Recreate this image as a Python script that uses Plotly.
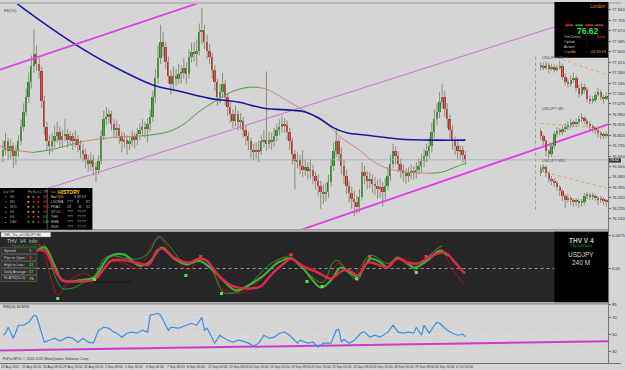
import plotly.graph_objects as go

W, H = 625, 370
FONT = "Liberation Sans"


def fx(px):
    return px / W


def fy(py):
    return 1 - py / H


# ---------------- main chart data: USDJPY H4 ----------------
first_open = 76.65
close = [76.70, 76.77, 76.69, 76.73, 76.65, 76.69, 76.77, 76.89, 77.01, 77.13, 77.25, 77.38, 77.48, 77.40, 77.34, 77.10, 76.89,
         76.77, 76.73, 76.77, 76.81, 76.85, 76.78, 76.81, 76.83, 76.78, 76.81, 76.77, 76.79, 76.74, 76.70, 76.67, 76.62, 76.59, 76.62, 76.56, 76.54, 76.61,
         76.81, 76.95, 76.97, 76.99, 76.91, 76.86, 76.88, 76.81, 76.77, 76.78, 76.75, 76.77, 76.81, 76.78, 76.83, 76.86, 76.89, 76.87, 76.91, 76.97,
         77.13, 77.29, 77.45, 77.58, 77.54, 77.42, 77.30, 77.24, 77.30, 77.28, 77.32, 77.33, 77.37, 77.32, 77.46, 77.50, 77.48, 77.51, 77.66, 77.68,
         77.58, 77.51, 77.46, 77.35, 77.25, 77.13, 77.17, 77.24, 77.13, 77.05, 76.99, 76.94, 76.99, 76.93, 76.94, 76.86, 76.81, 76.77, 76.70, 76.69, 76.70, 76.69,
         76.77, 76.78, 76.75, 76.78, 76.77, 76.81, 76.86, 76.89, 76.91, 76.90, 76.85, 76.77, 76.67, 76.61, 76.62, 76.57, 76.54, 76.56, 76.53, 76.54,
         76.49, 76.45, 76.41, 76.36, 76.34, 76.36, 76.44, 76.57, 76.69, 76.77, 76.67, 76.57, 76.49, 76.41, 76.35, 76.30, 76.28, 76.24, 76.32, 76.52,
         76.49, 76.45, 76.46, 76.42, 76.41, 76.38, 76.40, 76.36, 76.41, 76.49, 76.59, 76.69, 76.65, 76.59, 76.54, 76.51, 76.49, 76.51, 76.53, 76.52,
         76.54, 76.57, 76.61, 76.65, 76.69, 76.73, 76.85, 76.95, 77.01, 77.09, 77.13, 77.03, 76.95, 76.86, 76.77, 76.73, 76.69, 76.70, 76.66, 76.62]
high = [76.78, 76.84, 76.80, 76.79, 76.76, 76.74, 76.82, 76.95, 77.08, 77.20, 77.33, 77.47, 77.68, 77.55, 77.45, 77.38, 77.14,
        76.93, 76.82, 76.84, 76.90, 76.93, 76.89, 76.86, 76.95, 76.87, 76.85, 76.84, 76.86, 76.82, 76.78, 76.75, 76.71, 76.66, 76.68, 76.66, 76.60, 76.66,
        76.86, 77.02, 77.05, 77.03, 77.02, 76.95, 76.94, 76.91, 76.85, 76.84, 76.82, 76.81, 76.86, 76.84, 76.88, 76.92, 76.95, 76.93, 76.96, 77.03,
        77.18, 77.36, 77.55, 77.72, 77.66, 77.58, 77.46, 77.35, 77.38, 77.36, 77.40, 77.39, 77.45, 77.41, 77.52, 77.57, 77.58, 77.60, 77.73, 77.86,
        77.72, 77.64, 77.56, 77.49, 77.39, 77.28, 77.24, 77.33, 77.27, 77.16, 77.09, 77.03, 77.06, 77.02, 77.00, 76.97, 76.90, 76.85, 76.80, 76.75, 76.76, 76.78,
        76.82, 76.86, 77.34, 76.85, 76.84, 76.88, 76.92, 76.95, 76.98, 76.96, 76.94, 76.88, 76.80, 76.70, 76.68, 76.66, 76.70, 76.62, 76.60, 76.62,
        76.58, 76.52, 76.50, 76.45, 76.42, 76.43, 76.50, 76.63, 76.76, 76.88, 76.80, 76.72, 76.62, 76.54, 76.45, 76.40, 76.37, 76.33, 76.38, 76.60,
        76.57, 76.53, 76.52, 76.50, 76.48, 76.46, 76.47, 76.44, 76.47, 76.56, 76.66, 76.75, 76.73, 76.69, 76.63, 76.58, 76.55, 76.56, 76.58, 76.57,
        76.60, 76.63, 76.67, 76.71, 76.75, 76.80, 76.92, 77.03, 77.08, 77.17, 77.24, 77.18, 77.08, 76.99, 76.90, 76.81, 76.77, 76.74, 76.73, 76.69]
low = [76.60, 76.66, 76.62, 76.63, 76.55, 76.58, 76.64, 76.74, 76.85, 76.98, 77.08, 77.20, 77.33, 77.34, 77.28, 77.04, 76.82,
       76.70, 76.66, 76.68, 76.72, 76.76, 76.72, 76.73, 76.77, 76.72, 76.74, 76.70, 76.72, 76.68, 76.63, 76.60, 76.55, 76.52, 76.53, 76.49, 76.44, 76.50,
       76.58, 76.78, 76.90, 76.92, 76.86, 76.80, 76.80, 76.75, 76.68, 76.72, 76.66, 76.70, 76.73, 76.71, 76.74, 76.78, 76.81, 76.80, 76.76, 76.85,
       76.93, 77.08, 77.24, 77.40, 77.46, 77.36, 77.24, 77.15, 77.19, 77.22, 77.24, 77.24, 77.28, 77.24, 77.28, 77.41, 77.42, 77.38, 77.47, 77.56,
       77.52, 77.44, 77.40, 77.28, 77.18, 77.06, 77.08, 77.12, 77.06, 76.98, 76.92, 76.88, 76.89, 76.86, 76.87, 76.80, 76.74, 76.70, 76.63, 76.62, 76.63, 76.60,
       76.66, 76.72, 76.69, 76.71, 76.70, 76.73, 76.77, 76.82, 76.84, 76.84, 76.78, 76.70, 76.58, 76.38, 76.55, 76.50, 76.48, 76.49, 76.46, 76.47,
       76.42, 76.38, 76.33, 76.22, 76.26, 76.28, 76.31, 76.40, 76.53, 76.64, 76.61, 76.50, 76.42, 76.34, 76.27, 76.22, 76.16, 76.18, 76.19, 76.29,
       76.42, 76.38, 76.39, 76.35, 76.33, 76.30, 76.31, 76.24, 76.30, 76.37, 76.45, 76.55, 76.58, 76.52, 76.47, 76.44, 76.42, 76.44, 76.46, 76.46,
       76.47, 76.50, 76.52, 76.56, 76.60, 76.63, 76.68, 76.80, 76.90, 76.96, 77.04, 76.97, 76.88, 76.79, 76.70, 76.66, 76.62, 76.63, 76.60, 76.58]

price_ticks = [77.840, 77.755, 77.670, 77.585, 77.500, 77.415, 77.330, 77.245, 77.160, 77.075, 76.990,
               76.905, 76.820, 76.735, 76.650, 76.565, 76.480, 76.395, 76.310, 76.225, 76.140]
bid_price = 76.62

time_labels = ["23 Aug 2011", "25 Aug 00:00", "26 Aug 08:00", "29 Aug 16:00", "31 Aug 00:00", "1 Sep 08:00",
               "2 Sep 16:00", "6 Sep 00:00", "7 Sep 08:00", "8 Sep 16:00", "12 Sep 00:00", "13 Sep 08:00",
               "14 Sep 16:00", "16 Sep 00:00", "19 Sep 08:00", "20 Sep 16:00", "22 Sep 00:00", "23 Sep 08:00",
               "26 Sep 16:00", "28 Sep 00:00", "29 Sep 08:00", "30 Sep 16:00", "4 Oct 00:00"]
time_label_bars = [0, 8, 16, 24, 32, 40, 48, 56, 64, 72, 80, 88, 96, 104, 112, 120, 128, 136, 144, 152, 160, 168, 176]

# moving averages (bar index, price)
ma_blue_x = [3, 5, 14, 28, 41, 58, 68, 80, 91, 101, 117, 123, 128, 133, 141, 153, 168, 179]
ma_blue_y = [77.94, 77.90, 77.76, 77.56, 77.40, 77.23, 77.18, 77.12, 77.09, 77.04, 77.01, 76.95, 76.88, 76.84, 76.82, 76.79, 76.78, 76.78]

ma_col_x = [-1.15, 4.6, 11.5, 18.1, 25.8, 31.0, 37.3, 48.8, 54.0, 56.5, 64.2, 70.0, 75.8, 81.5, 89.2, 95.0, 98.8, 102.7,
            108.5, 114.2, 120.0, 125.8, 131.5, 137.3, 143.1, 148.8, 156.5, 165.4, 170.0, 175.0, 178.8]
ma_col_y = [76.73, 76.70, 76.68, 76.70, 76.74, 76.77, 76.79, 76.81, 76.815, 76.82, 76.85, 76.91, 77.01, 77.09, 77.18, 77.21, 77.21, 77.19,
            77.12, 77.05, 76.98, 76.90, 76.79, 76.71, 76.61, 76.55, 76.52, 76.51, 76.52, 76.56, 76.59]
ma_col_rising = [False, False, True, True, True, False, False, False, True, True, True, True, True, True, True, True, False, False,
                 False, False, False, False, False, False, False, False, False, True, True, True, True]

# trend lines (bar index, price)
tl_upper_x = [-1.15, 80.0]
tl_upper_y = [77.354, 77.927]
tl_mid_x = [14.2, 213.5]
tl_mid_y = [76.366, 77.702]
tl_lower_x = [110.4, 234.2]
tl_lower_y = [76.014, 76.909]

# ---------------- mini charts (right side) ----------------
m1_open0 = 76.693
m1_close = [76.694, 76.692, 76.695, 76.691, 76.693, 76.690, 76.692, 76.694, 76.683, 76.678, 76.676, 76.680, 76.682,
            76.672, 76.666, 76.673, 76.670, 76.661, 76.659, 76.660, 76.665, 76.668, 76.663, 76.661, 76.664]
m1_high = [76.697, 76.697, 76.698, 76.697, 76.696, 76.695, 76.695, 76.699, 76.696, 76.686, 76.681, 76.684, 76.687,
           76.684, 76.675, 76.677, 76.676, 76.672, 76.664, 76.663, 76.668, 76.672, 76.670, 76.665, 76.667]
m1_low = [76.689, 76.689, 76.690, 76.686, 76.689, 76.687, 76.688, 76.690, 76.680, 76.674, 76.672, 76.673, 76.677,
          76.668, 76.662, 76.664, 76.666, 76.657, 76.655, 76.656, 76.657, 76.663, 76.659, 76.656, 76.659]
m1_ma_x = [8, 24]
m1_ma_y = [76.700, 76.685]

m5_open0 = 76.680
m5_close = [76.675, 76.670, 76.660, 76.657, 76.665, 76.677, 76.680, 76.679, 76.682, 76.684, 76.686, 76.688, 76.687,
            76.689, 76.692, 76.693, 76.690, 76.687, 76.685, 76.683, 76.681, 76.678, 76.676, 76.675, 76.677]
m5_high = [76.683, 76.677, 76.672, 76.662, 76.668, 76.680, 76.684, 76.683, 76.686, 76.688, 76.690, 76.692, 76.691,
           76.693, 76.696, 76.698, 76.695, 76.692, 76.690, 76.687, 76.685, 76.683, 76.680, 76.679, 76.680]
m5_low = [76.672, 76.666, 76.655, 76.652, 76.654, 76.662, 76.674, 76.676, 76.676, 76.679, 76.681, 76.683, 76.684,
          76.684, 76.686, 76.689, 76.687, 76.684, 76.681, 76.679, 76.677, 76.674, 76.672, 76.672, 76.673]
m5_ma_x = [0, 24]
m5_ma_y = [76.688, 76.683]

m15_open0 = 76.690
m15_close = [76.694, 76.696, 76.690, 76.684, 76.682, 76.680, 76.676, 76.672, 76.667, 76.663, 76.665, 76.663, 76.661,
             76.662, 76.660, 76.661, 76.667, 76.668, 76.666, 76.667, 76.665, 76.663, 76.664, 76.662, 76.661]
m15_high = [76.698, 76.699, 76.698, 76.692, 76.687, 76.685, 76.682, 76.678, 76.674, 76.669, 76.669, 76.667, 76.665,
            76.665, 76.664, 76.664, 76.670, 76.671, 76.670, 76.670, 76.669, 76.667, 76.667, 76.666, 76.664]
m15_low = [76.687, 76.691, 76.686, 76.680, 76.678, 76.676, 76.672, 76.667, 76.662, 76.655, 76.660, 76.658, 76.656,
           76.657, 76.655, 76.656, 76.658, 76.664, 76.663, 76.663, 76.662, 76.658, 76.660, 76.658, 76.656]
m15_ma_x = [0, 24]
m15_ma_y = [76.692, 76.675]

# ---------------- THV oscillator (units of 0.0001) ----------------
thv_thick_red_x = [13.1, 16.2, 18.8, 22.7, 29.6, 35.4, 39.2, 41.9, 48.1, 52.7, 56.5, 59.6, 61.5, 66.2, 71.9, 75.8, 78.8, 83.5, 89.2, 95.8,
                   99.6, 104.6, 109.2, 111.5, 116.2, 121.9, 126.9, 131.5, 134.2, 137.3, 141.2, 146.2, 148.8, 152.7, 156.5, 160.4, 166.2,
                   171.2, 175.0, 178.8]
thv_thick_red_y = [40.5, 40.5, 13.5, -24.8, -29.3, -24.8, 0, 18, 18, 11.3, 9, 40.5, 45, 24.8, 13.5, 22.5, 18, -15.8, -40.5, -45,
                   -40.5, -9, 13.5, 22.5, 4.5, -9, -22.5, -4.5, -4.5, -15.8, 13.5, 6.8, 2.3, 22.5, 13.5, 11.3, 29.3,
                   36, 13.5, -11.3]
thv_thick_green_x = [13.1, 16.2, 20.0, 23.1, 31.5, 35.4, 41.2, 46.9, 52.7, 56.5, 61.5, 66.2, 71.2, 75.8, 81.5, 90.0, 95.0, 100.8,
                     106.5, 111.5, 116.2, 123.1, 126.9, 130.8, 134.2, 137.3, 142.3, 146.2, 148.8, 152.7, 156.5, 159.2, 164.2,
                     169.2, 171.9]
thv_thick_green_y = [40.5, 47.3, 6.8, -27, -24.8, -20.3, 27, 31.5, 6.8, 13.5, 47.3, 22.5, 9, 18, -4.5, -49.5, -38.3, -15.8,
                     13.5, 22.5, 0, -42.8, -27, 2.3, -9, -18, 22.5, 13.5, 2.3, 24.8, 11.3, 2.3, 18,
                     40.5, 29.3]
thv_thin_red_x = [13.1, 16.2, 18.8, 21.2, 25.8, 31.5, 36.2, 41.2, 46.2, 52.7, 57.3, 60.4, 64.2, 68.1, 71.9, 75.8, 79.6, 83.5, 88.1,
                  93.1, 99.6, 106.5, 111.2, 114.2, 120.0, 125.8, 129.6, 131.5, 136.2, 141.2, 146.2, 150.8, 154.6, 158.5, 163.5,
                  169.2, 173.8, 178.8]
thv_thin_red_y = [67.5, 29.3, -27, -60.8, -27, -11.3, -22.5, 13.5, 13.5, 0, 51.8, 69.8, 40.5, 13.5, -4.5, 22.5, 13.5, -38.3, -54,
                  -54, -27, 18, 29.3, 13.5, 0, -15.8, 11.3, 6.8, -9, 22.5, 4.5, 13.5, 22.5, 13.5, 18,
                  47.3, 0, -38.3]
thv_thin_green_x = [13.1, 16.2, 20.0, 23.1, 27.7, 32.3, 35.4, 39.2, 41.9, 48.1, 52.7, 56.5, 60.4, 64.2, 70.0, 73.8, 77.7, 81.5,
                    85.4, 90.0, 95.0, 102.7, 108.5, 112.3, 118.1, 123.8, 127.7, 129.6, 133.5, 137.3, 140.4, 143.1, 148.8,
                    152.7, 156.5, 159.6, 162.3, 168.1, 170.0]
thv_thin_green_y = [40.5, 51.8, -15.8, -45, -42.8, -27, -15.8, 22.5, 29.3, 22.5, 22.5, 36, 72, 51.8, 13.5, 13.5, 22.5, -9,
                    -54, -54, -38.3, 6.8, 24.8, 22.5, -11.3, -31.5, 13.5, 18, -9, -27, 22.5, 29.3, 11.3,
                    22.5, 13.5, -4.5, 13.5, 45, 51.8]
thv_buy_x = [21.2, 35.4, 70.8, 84.6, 117.7, 123.5, 136.9, 160.0]
thv_buy_y = [-67.5, -24.8, -15.8, -56.3, -29.3, -40.5, -22.5, -9]
thv_sell_x = [76.5, 111.5, 141.9, 163.8]
thv_sell_y = [27, 31.5, 27, 27]
thv_ticks = [75, 0, -75]
thv_ticktext = ["0.0075", "0.00", "-0.0075"]

# ---------------- RSI(14) ----------------
rsi_x = [0, 1, 2, 4, 6, 8, 10, 12, 13, 14, 16, 18, 20, 22, 25, 27, 29, 31, 33, 35, 37, 39, 41, 43, 44, 46, 48, 50, 52, 54, 56,
         57, 60, 61, 64, 65, 68, 71, 73, 75, 77, 78, 79, 82, 84, 85, 87, 89, 91, 93, 95, 97, 99, 101, 103, 105, 107, 109, 111, 114,
         115, 118, 120, 122, 124, 127, 129, 130, 131, 132, 134, 136, 139, 140, 142, 144, 146, 149, 151, 153, 155, 157, 159, 160,
         162, 163, 165, 167, 168, 169, 172, 174, 176, 178, 179]
rsi_v = [48.8, 51.2, 58.2, 45.3, 60.6, 60.6, 64.1, 72.4, 71.2, 60.6, 40.6, 42.9, 45.3, 41.8, 46.5, 45.3, 40.6, 45.3, 40.6, 39.4,
         54.7, 58.2, 57.1, 52.4, 51.2, 46.5, 51.2, 52.4, 51.2, 54.7, 52.4, 72.4, 74.7, 72.4, 54.7, 58.2, 57.1, 60.6, 62.9, 60.6,
         70.0, 54.7, 57.1, 39.4, 48.8, 46.5, 42.9, 40.6, 42.9, 41.8, 39.4, 35.9, 39.4, 48.8, 45.3, 46.5, 51.2, 52.4, 48.8, 39.4,
         42.9, 39.4, 40.6, 34.7, 39.4, 39.4, 54.7, 55.9, 40.6, 44.1, 39.4, 42.9, 52.4, 52.4, 46.5, 48.8, 46.5, 52.4, 60.6, 52.4,
         51.2, 52.4, 51.2, 58.2, 48.8, 60.6, 51.2, 60.6, 64.1, 62.9, 54.7, 51.2, 48.8, 50.0, 46.8]
rsi_tl_x = [-1.15, 234.2]
rsi_tl_y = [30.6, 41.8]
rsi_levels = [70, 50, 30]
rsi_ticks = [85, 70, 50, 30, 15]

# ---------------- colours ----------------
BG = "#d5d5d5"
UP = "#1f8f1f"
DN = "#c4262a"
WICK = "#8c8c7a"
MAGENTA = "#e23ee2"
VIOLET = "#d070d8"
BLUE_MA = "#1a1aa0"
MA_UP = "#4f9a4f"
MA_DN = "#c98a72"

fig = go.Figure()


def add_candles(o0, c, h, l, xa, ya, width, wick_w=1):
    n = len(c)
    opens = [o0] + c[:-1]
    wx, wy = [], []
    for i in range(n):
        wx += [i, i, None]
        wy += [l[i], h[i], None]
    fig.add_trace(go.Scatter(x=wx, y=wy, mode="lines", line=dict(color=WICK, width=wick_w),
                             hoverinfo="skip", xaxis=xa, yaxis=ya))
    span = (max(h) - min(l))
    ux, ub, uh, dx, db, dh = [], [], [], [], [], []
    for i in range(n):
        o, cl = opens[i], c[i]
        hgt = max(abs(cl - o), span * 0.006)
        if cl >= o:
            ux.append(i); ub.append(min(o, cl)); uh.append(hgt)
        else:
            dx.append(i); db.append(min(o, cl)); dh.append(hgt)
    fig.add_trace(go.Bar(x=ux, y=uh, base=ub, width=width, marker=dict(color=UP, line=dict(width=0)),
                         hoverinfo="skip", xaxis=xa, yaxis=ya))
    fig.add_trace(go.Bar(x=dx, y=dh, base=db, width=width, marker=dict(color=DN, line=dict(width=0)),
                         hoverinfo="skip", xaxis=xa, yaxis=ya))


# main chart lines beneath candles
fig.add_trace(go.Scatter(x=[-1.15, 234.2], y=[bid_price, bid_price], mode="lines",
                         line=dict(color="#a9b6c6", width=1), hoverinfo="skip", xaxis="x", yaxis="y"))
fig.add_trace(go.Scatter(x=tl_mid_x, y=tl_mid_y, mode="lines", line=dict(color=VIOLET, width=1),
                         hoverinfo="skip", xaxis="x", yaxis="y"))

# coloured MA split into segments
seg_start = 0
for k in range(1, len(ma_col_x) + 1):
    if k == len(ma_col_x) or ma_col_rising[k] != ma_col_rising[seg_start]:
        end = min(k, len(ma_col_x) - 1)
        fig.add_trace(go.Scatter(x=ma_col_x[seg_start:end + 1], y=ma_col_y[seg_start:end + 1], mode="lines",
                                 line=dict(color=MA_UP if ma_col_rising[seg_start] else MA_DN, width=1, shape="spline"),
                                 hoverinfo="skip", xaxis="x", yaxis="y"))
        seg_start = k

add_candles(first_open, close, high, low, "x", "y", 0.72)

fig.add_trace(go.Scatter(x=ma_blue_x, y=ma_blue_y, mode="lines", line=dict(color=BLUE_MA, width=1.6, shape="spline"),
                         hoverinfo="skip", xaxis="x", yaxis="y"))
fig.add_trace(go.Scatter(x=tl_upper_x, y=tl_upper_y, mode="lines", line=dict(color=MAGENTA, width=1.8),
                         hoverinfo="skip", xaxis="x", yaxis="y"))
fig.add_trace(go.Scatter(x=tl_lower_x, y=tl_lower_y, mode="lines", line=dict(color=MAGENTA, width=1.8),
                         hoverinfo="skip", xaxis="x", yaxis="y"))

# mini charts
for (o0, c, h, l, mx, my, xa, ya) in [
    (m1_open0, m1_close, m1_high, m1_low, m1_ma_x, m1_ma_y, "x4", "y4"),
    (m5_open0, m5_close, m5_high, m5_low, m5_ma_x, m5_ma_y, "x5", "y5"),
    (m15_open0, m15_close, m15_high, m15_low, m15_ma_x, m15_ma_y, "x6", "y6"),
]:
    fig.add_trace(go.Scatter(x=mx, y=my, mode="lines", line=dict(color="#e0a050", width=1, dash="dot"),
                             hoverinfo="skip", xaxis=xa, yaxis=ya))
    add_candles(o0, c, h, l, xa, ya, 0.7)

# THV panel
fig.add_trace(go.Scatter(x=[13, 213.5], y=[0, 0], mode="lines", line=dict(color="#9c9c9c", width=1, dash="dot"),
                         hoverinfo="skip", xaxis="x2", yaxis="y2"))
fig.add_trace(go.Scatter(x=thv_thin_red_x, y=thv_thin_red_y, mode="lines",
                         line=dict(color="#a8161c", width=1, shape="spline"), hoverinfo="skip", xaxis="x2", yaxis="y2"))
fig.add_trace(go.Scatter(x=thv_thin_green_x, y=thv_thin_green_y, mode="lines",
                         line=dict(color="#2f9a2f", width=1, shape="spline"), hoverinfo="skip", xaxis="x2", yaxis="y2"))
fig.add_trace(go.Scatter(x=thv_thick_green_x, y=thv_thick_green_y, mode="lines",
                         line=dict(color="#3dae3d", width=2.2, shape="spline"), hoverinfo="skip", xaxis="x2", yaxis="y2"))
fig.add_trace(go.Scatter(x=thv_thick_red_x, y=thv_thick_red_y, mode="lines",
                         line=dict(color="#e0284e", width=2.4, shape="spline"), hoverinfo="skip", xaxis="x2", yaxis="y2"))
fig.add_trace(go.Scatter(x=thv_buy_x, y=thv_buy_y, mode="markers", marker=dict(color="#5fe05f", size=3, symbol="square"),
                         hoverinfo="skip", xaxis="x2", yaxis="y2"))
fig.add_trace(go.Scatter(x=thv_sell_x, y=thv_sell_y, mode="markers", marker=dict(color="#e04040", size=3, symbol="square"),
                         hoverinfo="skip", xaxis="x2", yaxis="y2"))

# RSI panel
for lv in rsi_levels:
    fig.add_trace(go.Scatter(x=[-1.15, 234.2], y=[lv, lv], mode="lines", line=dict(color="#e2e2e2", width=0.8, dash="dot"),
                             hoverinfo="skip", xaxis="x3", yaxis="y3"))
fig.add_trace(go.Scatter(x=rsi_tl_x, y=rsi_tl_y, mode="lines", line=dict(color="#cc3acc", width=2),
                         hoverinfo="skip", xaxis="x3", yaxis="y3"))
fig.add_trace(go.Scatter(x=rsi_x, y=rsi_v, mode="lines", line=dict(color="#3d8ee0", width=1.2),
                         hoverinfo="skip", xaxis="x3", yaxis="y3"))

# ---------------- shapes ----------------
shapes = []


def rect(x0, y0, x1, y1, fill, layer="below", line_color=None, lw=0):
    shapes.append(dict(type="rect", xref="paper", yref="paper", x0=fx(x0), x1=fx(x1), y0=fy(y1), y1=fy(y0),
                       fillcolor=fill, line=dict(width=lw, color=line_color or fill), layer=layer))


def hline(x0, x1, y, color, width=1, layer="above", dash="solid"):
    shapes.append(dict(type="line", xref="paper", yref="paper", x0=fx(x0), x1=fx(x1), y0=fy(y), y1=fy(y),
                       line=dict(color=color, width=width, dash=dash), layer=layer))


def vline(x, y0, y1, color, width=1, layer="above", dash="solid"):
    shapes.append(dict(type="line", xref="paper", yref="paper", x0=fx(x), x1=fx(x), y0=fy(y0), y1=fy(y1),
                       line=dict(color=color, width=width, dash=dash), layer=layer))


rect(0, 0, 625, 370, BG)
rect(0, 229, 612, 231, "#bdbdbd")
rect(0, 231, 612, 302, "#262626")
rect(0, 302, 612, 304, "#bdbdbd")
hline(0, 625, 1, "#9a9a9a", 1, "below")
hline(0, 612, 229, "#8a8a8a", 1, "below")
hline(0, 612, 303.5, "#8a8a8a", 1, "below")
hline(0, 625, 363.5, "#707070", 1, "below")
vline(612.5, 0, 364, "#707070", 1, "below")
vline(539, 55, 212, "#9a9a9a", 1, "below", "dot")

# overlay boxes
rect(558, 0, 612, 56, "#000000", "above")
for x0, col in [(569, "#c83030"), (579, "#30a030"), (589, "#c83030"), (599, "#c83030")]:
    rect(x0, 22.5, x0 + 8, 24.2, col, "above")
rect(0, 187, 93, 229, "#000000", "above")
vline(47.5, 188, 229, "#555555", 1)
rect(558, 231, 612, 302, "#000000", "above")
rect(1, 231.5, 51, 236.2, "#f2f2f2", "above", "#909090", 0.5)
thv_rows_y = [250, 257, 264, 271, 278]
for yy in thv_rows_y:
    rect(1, yy - 3, 37, yy + 3, "#303030", "above", "#6a6a6a", 0.6)
rect(613, 157, 625, 161.5, "#3a3a3a", "above")

# ---------------- annotations ----------------
anns = []


def txt(x, y, s, size=4.5, color="#202020", xanchor="left", family=FONT, bold=False):
    anns.append(dict(x=fx(x), y=fy(y), xref="paper", yref="paper", text=("<b>%s</b>" % s) if bold else s,
                     showarrow=False, xanchor=xanchor, yanchor="middle",
                     font=dict(size=size, color=color, family=family), borderpad=0))


txt(3, 9, "EE(10)", 4, "#1f5f1f")
# top-right info box
txt(611, 5, "London", 4.5, "#e0861e", "right")
txt(592, 29.5, "76.62", 8.5, "#3fe03f", "center", bold=True)
txt(567, 35, "Trn Dirctn", 3.8, "#c8c8c8")
txt(589, 35, ":", 3.8, "#c8c8c8")
txt(611, 35, "Bear", 3.8, "#e03030", "right")
txt(567, 40, "Option", 3.8, "#c8c8c8")
txt(589, 40, ":", 3.8, "#c8c8c8")
txt(567, 45, "Action", 3.8, "#c8c8c8")
txt(589, 45, ":", 3.8, "#c8c8c8")
txt(567, 50.5, "Candle", 3.8, "#f0a020")
txt(589, 50.5, ":", 3.8, "#f0a020")
txt(611, 50.5, "03:39:19", 3.8, "#f0a020", "right")
# mini chart titles
txt(544, 56, "USDJPY M1", 3.8, "#505050")
txt(544, 108, "USDJPY M5", 3.8, "#505050")
txt(544, 160, "USDJPY M15", 3.8, "#505050")
txt(624, 159.2, "76.62", 3.6, "#ffffff", "right")

# bottom-left info table
txt(2, 191, "Cur TF", 3.5, "#b0b0b0")
txt(27, 191, "Fe Ku Cl", 3.5, "#b0b0b0")
txt(42, 191, "TF", 3.5, "#b0b0b0")
tf_names = ["M1", "M5", "M15", "H1", "H4", "DAY"]
tf_arrows = ["▼", "▼", "▲", "▲", "▲", "▲"]
tf_arrow_cols = ["#d03030", "#d03030", "#30b030", "#30b030", "#30b030", "#30b030"]
tf_dots = [["#f0a020", "#30b030", "#d03030"], ["#f0a020", "#d03030", "#d03030"], ["#f0a020", "#30b030", "#d03030"],
           ["#f0a020", "#f0a020", "#d03030"], ["#d03030", "#d03030", "#30b030"], ["#30b030", "#30b030", "#d03030"]]
tf_right_cols = ["#d03030", "#d03030", "#d03030", "#d03030", "#30b030", "#30b030"]
for r, yy in enumerate([196, 201, 206, 211, 216, 221]):
    txt(3, yy, tf_arrows[r], 3.2, tf_arrow_cols[r])
    txt(9, yy, tf_names[r], 3.5, "#a0a0a0")
    for j, xx in enumerate([29, 34, 39]):
        txt(xx, yy, "●", 4.5, tf_dots[r][j], "center")
    txt(42, yy, tf_names[r], 3.5, tf_right_cols[r])
txt(50, 191, "LLI", 3.2, "#a0a0a0")
txt(57, 191, "HISTORY", 5, "#f0d020", bold=True)
txt(50, 196, "Bar#5%", 3.5, "#f0d020")
txt(73, 196, "3:39:19", 3.5, "#c0c0c0")
hist_rows = [("LSOMA", "???", "8", "87"), ("FRAC", "23", "-11", "12"), ("STOC", "???", "??.??", ""),
             ("THV", "???", "??.??", ""), ("EMB", "???", "??.??", ""), ("RDR", "???", "??.??", "")]
for r, yy in enumerate([201, 206, 211, 216, 221, 226]):
    a, b, c, d = hist_rows[r]
    txt(50, yy, a, 3.5, "#c0c0c0")
    txt(66, yy, b, 3.5, "#c0c0c0")
    txt(76, yy, c, 3.5, "#c0c0c0")
    if d:
        txt(86, yy, d, 3.5, "#c0c0c0")

# THV panel texts
txt(3, 233.8, "THV_Trix_v4 USDJPY,H4", 3.2, "#202020")
txt(6, 240, "THV  V4  Info", 5, "#c8c8c8")
txt(8, 245, "© Pipster & Co 01/2011", 3, "#2fa02f")
thv_rows = [("Spread :", "1", "#f0a020"), ("Pips to Open :", "8", "#e03030"), ("High to Low :", "21", "#40c040"),
            ("Daily Average :", "57", "#40c040"), ("Hi-ATR(50-5) :", "75", "#f0a020")]
for (lab, val, col), yy in zip(thv_rows, thv_rows_y):
    txt(3, yy, lab, 3.6, "#d0d0d0")
    txt(28, yy, val, 4.2, col, bold=True)
txt(94, 281, "www.cobraforex.com", 4, "#0e0e0e")
txt(585, 239.5, "THV V 4", 6.5, "#c8c8c8", "center", bold=True)
txt(585, 245, "© By Cobraforex", 3, "#2fa02f", "center")
txt(585, 253.5, "USDJPY", 6.5, "#d8d8d8", "center")
txt(585, 262, "240 M", 6.5, "#d8d8d8", "center")

# RSI texts
txt(2, 307, "RSI(14) 46.8294", 3.6, "#202020")
txt(2, 359, "FxPro MT4, © 2001-2011 MetaQuotes Software Corp.", 3.6, "#303030")

# time axis labels (positioned on the RSI x axis)
for lab, b in zip(time_labels, time_label_bars):
    anns.append(dict(x=b - 1.0, y=fy(366.8), xref="x3", yref="paper", text=lab, showarrow=False,
                     xanchor="left", yanchor="middle", font=dict(size=3.3, color="#303030", family=FONT),
                     borderpad=0))

XR = [-1.154, 234.23]
axis_off = dict(visible=False, showgrid=False, zeroline=False, fixedrange=True)
tickfont = dict(size=4.2, color="#303030", family=FONT)

fig.update_layout(
    width=W, height=H, margin=dict(l=0, r=0, t=0, b=0), autosize=False,
    paper_bgcolor=BG, plot_bgcolor="rgba(0,0,0,0)", showlegend=False, barmode="overlay", bargap=0,
    shapes=shapes, annotations=anns,
    xaxis=dict(domain=[0, fx(612)], range=XR, anchor="y", **axis_off),
    yaxis=dict(domain=[fy(228), fy(2)], range=[76.0586, 77.8886], anchor="x", side="right",
               tickvals=price_ticks, ticktext=["%.3f" % v for v in price_ticks], tickfont=tickfont,
               ticks="outside", ticklen=2, tickcolor="#606060", showgrid=False, zeroline=False, showline=False,
               fixedrange=True),
    xaxis2=dict(domain=[0, fx(612)], range=XR, anchor="y2", **axis_off),
    yaxis2=dict(domain=[fy(301), fy(231)], range=[-74.25, 83.25], anchor="x2", side="right",
                tickvals=thv_ticks, ticktext=thv_ticktext, tickfont=tickfont, ticks="outside", ticklen=2,
                tickcolor="#606060", showgrid=False, zeroline=False, showline=False, fixedrange=True),
    xaxis3=dict(domain=[0, fx(612)], range=XR, anchor="y3", **axis_off),
    yaxis3=dict(domain=[fy(363), fy(304)], range=[15.9, 85.3], anchor="x3", side="right",
                tickvals=rsi_ticks, ticktext=[str(v) for v in rsi_ticks], tickfont=tickfont, ticks="outside",
                ticklen=2, tickcolor="#606060", showgrid=False, zeroline=False, showline=False, fixedrange=True),
    xaxis4=dict(domain=[fx(541), fx(612)], range=[-1.1, 24.7], anchor="y4", **axis_off),
    yaxis4=dict(domain=[fy(108), fy(58)], range=[76.650, 76.700], anchor="x4", **axis_off),
    xaxis5=dict(domain=[fx(541), fx(612)], range=[-1.1, 24.7], anchor="y5", **axis_off),
    yaxis5=dict(domain=[fy(158), fy(110)], range=[76.652, 76.700], anchor="x5", **axis_off),
    xaxis6=dict(domain=[fx(541), fx(612)], range=[-1.1, 24.7], anchor="y6", **axis_off),
    yaxis6=dict(domain=[fy(214), fy(162)], range=[76.648, 76.700], anchor="x6", **axis_off),
)

fig.write_html("out.html", config={"displayModeBar": False})
